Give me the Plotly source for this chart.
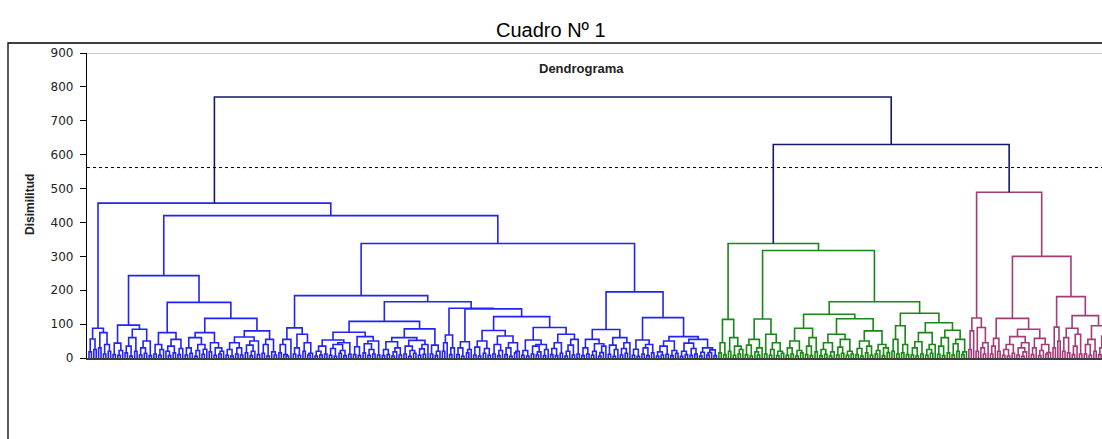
import plotly.graph_objects as go

# ---------------- data (gap heights between adjacent leaves, left to right) -------------
# Blue group terminal clusters
C1 = [18, 56, 25, 88, 30, 75, 12, 40, 20]
C2 = [10, 44, 8, 22, 97, 15, 35, 6, 60, 20, 85, 9, 30, 14, 50, 7]
C3 = [12, 40, 8, 25, 75, 20, 7, 35, 15, 55, 10, 28]
C4 = [9, 30, 14, 60, 5, 22, 40, 11, 26, 75, 18, 45, 8, 30, 12, 20]
C5 = [8, 25, 6, 45, 12, 30, 9, 62, 15, 38, 7, 20, 50, 10, 80, 14, 40, 6, 55, 18, 9]
C6 = [15, 40, 10, 6, 55, 89, 12, 30, 8, 70, 20, 45, 9, 14]
C7a = [6, 20, 9, 35, 12, 53, 8, 28, 5, 40, 14, 22, 7, 45, 11, 76, 10, 33, 7, 63, 15, 42, 8, 25, 12, 50, 9]
C7b = [7, 25, 10, 48, 6, 18, 30, 9, 60, 12, 35, 5, 22, 14, 52, 8, 27, 11, 40, 86, 12, 38, 7, 20]
C8 = [20, 45, 68, 10, 30]
C9 = [10, 30, 5, 48, 15, 25]
C10 = [9, 32, 6, 50, 14, 28, 8, 81, 12, 40, 7, 22, 65, 10, 30, 5, 45, 15, 20]
C11 = [8, 22, 6, 53, 12, 35, 9, 18, 40, 7, 25, 90, 10, 28, 7, 45, 14, 70, 6, 20, 38, 9, 55, 12]
C12 = [7, 30, 12, 55, 8, 20, 42, 6, 16, 35, 84, 11, 38, 5, 25, 60, 9, 28, 14, 45]
C13 = [8, 26, 5, 53, 12, 30, 7, 40, 15, 119, 6, 18, 9, 35, 11, 50, 7, 22, 14, 63, 5, 20,
       10, 44, 8, 28, 12, 55, 6, 17, 30, 9, 16, 24, 7]
blue_clusters = [C1, C2, C3, C4, C5, C6, C7a, C7b, C8, C9, C10, C11, C12, C13]
blue_seps = [457, 243, 164, 117, 420, 184, 108, 166, 147, 145, 122, 338, 195]

# Green group
C14 = [15, 45, 10, 114, 20, 60, 8, 35, 12, 25]
C15 = [10, 38, 6, 55, 18, 9, 30, 115, 12, 70, 8, 25, 45, 7, 20, 14]
C16 = [8, 30, 12, 50, 6, 22, 15, 88, 10, 35, 7, 60, 18]
C17 = [7, 25, 11, 45, 6, 18, 70, 9, 32, 14, 55, 8, 20, 12, 116, 10, 28, 6, 50, 15, 35, 8,
       80, 12, 22, 40, 7, 30, 16]
C18 = [20, 55, 12, 95, 15, 40, 10]
C19 = [9, 30, 6, 48, 12, 75, 8, 25, 14, 40, 104, 11, 35, 7, 60, 15, 82, 9, 42, 20, 55, 10, 18]
green_clusters = [C14, C15, C16, C17, C18, C19]
green_seps = [338, 317, 129, 166, 132]

# Maroon group
C20 = [25, 80, 118, 20, 90, 30, 12, 45]
C21 = [12, 35, 58, 20, 117, 8, 25, 6, 40, 14, 63, 9, 30, 5, 18, 45, 85, 10, 30, 58, 7, 22, 40, 12, 16]
C22 = [30, 91, 50]
C23 = [20, 60, 15, 88, 10, 35, 70, 12]
C24 = [12, 40, 8, 55, 20, 95, 10, 30, 65, 7, 25, 15]
maroon_clusters = [C20, C21, C22, C23, C24]
maroon_seps = [489, 300, 181, 125]

group_seps = [770, 630]          # blue | green , green | maroon
cut_level = 562                  # dashed truncation line
y_ticks = [0, 100, 200, 300, 400, 500, 600, 700, 800, 900]

# ---------------- build gap sequence --------------------------------------------------
def join(clusters, seps):
    out = list(clusters[0])
    for s, c in zip(seps, clusters[1:]):
        out.append(s)
        out.extend(c)
    return out

blue_g = join(blue_clusters, blue_seps)
green_g = join(green_clusters, green_seps)
maroon_g = join(maroon_clusters, maroon_seps)
gaps = blue_g + [group_seps[0]] + green_g + [group_seps[1]] + maroon_g
n_blue = len(blue_g) + 1
n_green = len(green_g) + 1
n_leaves = len(gaps) + 1

def group_of(i):
    if i < n_blue:
        return 0
    if i < n_blue + n_green:
        return 1
    return 2

colors = ["rgb(35,35,245)", "rgb(25,135,25)", "rgb(165,60,120)", "rgb(20,25,110)"]
segs = {k: ([], []) for k in range(4)}

def build(lo, hi):
    if lo == hi:
        return float(lo), 0.0
    k = max(range(lo, hi), key=lambda j: gaps[j])
    xl, hl = build(lo, k)
    xr, hr = build(k + 1, hi)
    h = gaps[k]
    g = group_of(lo) if group_of(lo) == group_of(hi) else 3
    xs, ys = segs[g]
    xs.extend([xl, xl, xr, xr, None])
    ys.extend([hl, h, h, hr, None])
    return (xl + xr) / 2, h

build(0, n_leaves - 1)

fig = go.Figure()
for g in range(4):
    xs, ys = segs[g]
    fig.add_trace(go.Scatter(x=xs, y=ys, mode="lines", hoverinfo="skip",
                             line=dict(color=colors[g], width=1.6), showlegend=False))

# layout geometry (pixels)
L, T, B = 87, 53, 81
W, H = 1102, 439
pw = W - L
ph = H - T - B
spacing = 2.404

def px_x(p):
    return (p - L) / pw

def px_y(p):
    return (H - B - p) / ph

FONT = "Liberation Sans, Arial, sans-serif"

fig.add_shape(type="line", xref="paper", yref="y", x0=0, x1=1, y0=cut_level, y1=cut_level,
              line=dict(color="black", width=1, dash="3px,3px"))
fig.add_shape(type="line", xref="paper", yref="y", x0=0, x1=1, y0=900, y1=900,
              line=dict(color="rgb(185,185,185)", width=1.5))
# outer frame
fig.add_shape(type="rect", xref="paper", yref="paper", x0=px_x(8), x1=px_x(1130),
              y0=px_y(470), y1=px_y(43), line=dict(color="black", width=1.3))

fig.add_annotation(text="Cuadro Nº 1", xref="paper", yref="paper", x=px_x(551), y=px_y(30),
                   xanchor="center", yanchor="middle", showarrow=False,
                   font=dict(family=FONT, size=20, color="black"))
fig.add_annotation(text="<b>Dendrograma</b>", xref="paper", yref="paper", x=px_x(581), y=px_y(68),
                   xanchor="center", yanchor="middle", showarrow=False,
                   font=dict(family=FONT, size=13, color="#222"))
fig.add_annotation(text="<b>Disimilitud</b>", xref="paper", yref="paper", x=px_x(30), y=px_y(205),
                   xanchor="center", yanchor="middle", showarrow=False, textangle=-90,
                   font=dict(family=FONT, size=12, color="#222"))

x0 = -(89 - L) / spacing
x1 = x0 + pw / spacing
fig.update_layout(
    width=W, height=H, margin=dict(l=L, r=0, t=T, b=B),
    plot_bgcolor="white", paper_bgcolor="white",
    xaxis=dict(range=[x0, x1], showgrid=False, zeroline=False, showticklabels=False,
               ticks="", showline=True, linecolor="rgb(60,60,60)", linewidth=1.5),
    yaxis=dict(range=[0, 900], tickvals=y_ticks, showgrid=False, zeroline=False,
               ticks="outside", ticklen=6, tickcolor="black", showline=True,
               linecolor="black", linewidth=1.3, ticklabelstandoff=4,
               tickfont=dict(family="DejaVu Sans, sans-serif", size=12, color="#222")),
    yaxis2=dict(range=[0, 900], tickvals=y_ticks, overlaying="y", side="left", anchor="x",
                showgrid=False, zeroline=False, ticks="inside", ticklen=3, tickcolor="black",
                showticklabels=False, showline=False),
)
fig.write_html("out.html", config={"displayModeBar": False},
               post_script="document.body.style.margin='0px';")
